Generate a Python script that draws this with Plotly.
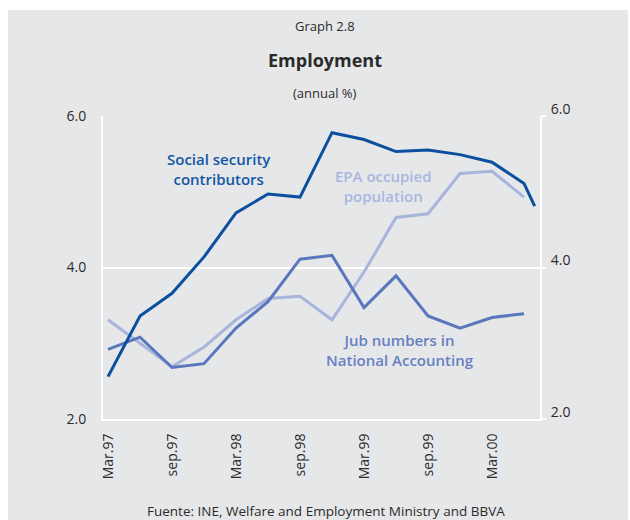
import plotly.graph_objects as go

# Quarterly observations, x measured in months from March 1997
months = [0, 3, 6, 9, 12, 15, 18, 21, 24, 27, 30, 33, 36, 39]
months_ss = months + [40]

social_security = [2.56, 3.36, 3.66, 4.14, 4.72, 4.97, 4.93, 5.78, 5.69, 5.53,
                   5.55, 5.49, 5.39, 5.11, 4.81]
epa_occupied = [3.31, 3.00, 2.69, 2.95, 3.31, 3.59, 3.62, 3.31, 3.94, 4.66,
                4.71, 5.24, 5.27, 4.93]
national_accounting = [2.92, 3.08, 2.68, 2.73, 3.20, 3.55, 4.11, 4.16, 3.47, 3.89,
                       3.36, 3.20, 3.34, 3.39]

tick_months = [0, 6, 12, 18, 24, 30, 36]
tick_labels = ["Mar.97", "sep.97", "Mar.98", "sep.98", "Mar.99", "sep.99", "Mar.00"]
y_ticks = [2, 4, 6]

DARK = "#0b4f9e"
MID = "#5a76bd"
LIGHT = "#a7b5dc"
BG = "#e6e7e9"
FONT = "Open Sans"
TXT = "#2b2b2b"

fig = go.Figure()
fig.add_trace(go.Scatter(x=months, y=epa_occupied, mode="lines",
                         line=dict(color=LIGHT, width=3), hoverinfo="skip"))
fig.add_trace(go.Scatter(x=months, y=national_accounting, mode="lines",
                         line=dict(color=MID, width=3), hoverinfo="skip"))
fig.add_trace(go.Scatter(x=months_ss, y=social_security, mode="lines",
                         line=dict(color=DARK, width=3), hoverinfo="skip"))
# invisible trace to activate the right-hand axis
fig.add_trace(go.Scatter(x=[months[0]], y=[y_ticks[0]], yaxis="y2", mode="markers",
                         marker=dict(opacity=0), hoverinfo="skip"))

W, H = 630, 520
L, R, T, B = 103, 90, 116, 101
pw, ph = W - L - R, H - T - B


def px_x(x):
    return (x - L) / pw


def px_y(y):
    return (H - B - y) / ph


tick_font = dict(family=FONT, size=14, color=TXT)

fig.update_layout(
    width=W, height=H,
    margin=dict(l=L, r=R, t=T, b=B, pad=0),
    paper_bgcolor="white",
    plot_bgcolor=BG,
    showlegend=False,
    xaxis=dict(range=[-0.47, -0.47 + pw / (32 / 3)], tickvals=tick_months,
               ticktext=tick_labels, tickangle=-90, showgrid=False, zeroline=False,
               showline=True, linecolor="white", linewidth=2, ticks="",
               ticklabelstandoff=7, tickfont=tick_font),
    yaxis=dict(range=[2, 6], tickvals=y_ticks, tickformat=".1f", showgrid=True,
               gridcolor="white", gridwidth=2, zeroline=False, showline=True,
               linecolor="white", linewidth=2, ticks="", ticklabelstandoff=12,
               tickfont=tick_font),
    yaxis2=dict(range=[2, 6], tickvals=y_ticks, tickformat=".1f", overlaying="y",
                side="right", showgrid=False, zeroline=False, showline=True,
                linecolor="white", linewidth=2, ticks="outside", ticklen=4,
                tickcolor="white", tickwidth=2, ticklabelshift=-7,
                ticklabelstandoff=2, tickfont=tick_font),
)

# grey panel behind the whole graphic
fig.add_shape(type="rect", xref="paper", yref="paper", layer="below",
              x0=px_x(8), x1=px_x(628), y0=px_y(10), y1=px_y(520),
              fillcolor=BG, line=dict(width=0))


def note(text, x, y, size, color=TXT, weight="normal"):
    fig.add_annotation(text=text, xref="paper", yref="paper", x=px_x(x), y=px_y(y),
                       showarrow=False, xanchor="center", yanchor="middle",
                       font=dict(family=FONT, size=size, color=color, weight=weight))


note("Graph 2.8", 325, 26, 13)
note("<b>Employment</b>", 325, 60, 18)
note("(annual %)", 325, 93, 13)
note("Fuente: INE, Welfare and Employment Ministry and BBVA", 326, 511, 13.5)

note("Social security<br>contributors", 219, 169, 15, "#1257a6", 600)
note("EPA occupied<br>population", 383, 186, 15, "#a9b7de", 600)
note("Jub numbers in<br>National Accounting", 400, 350, 15, "#6680c2", 600)

fig.write_html("out.html")
